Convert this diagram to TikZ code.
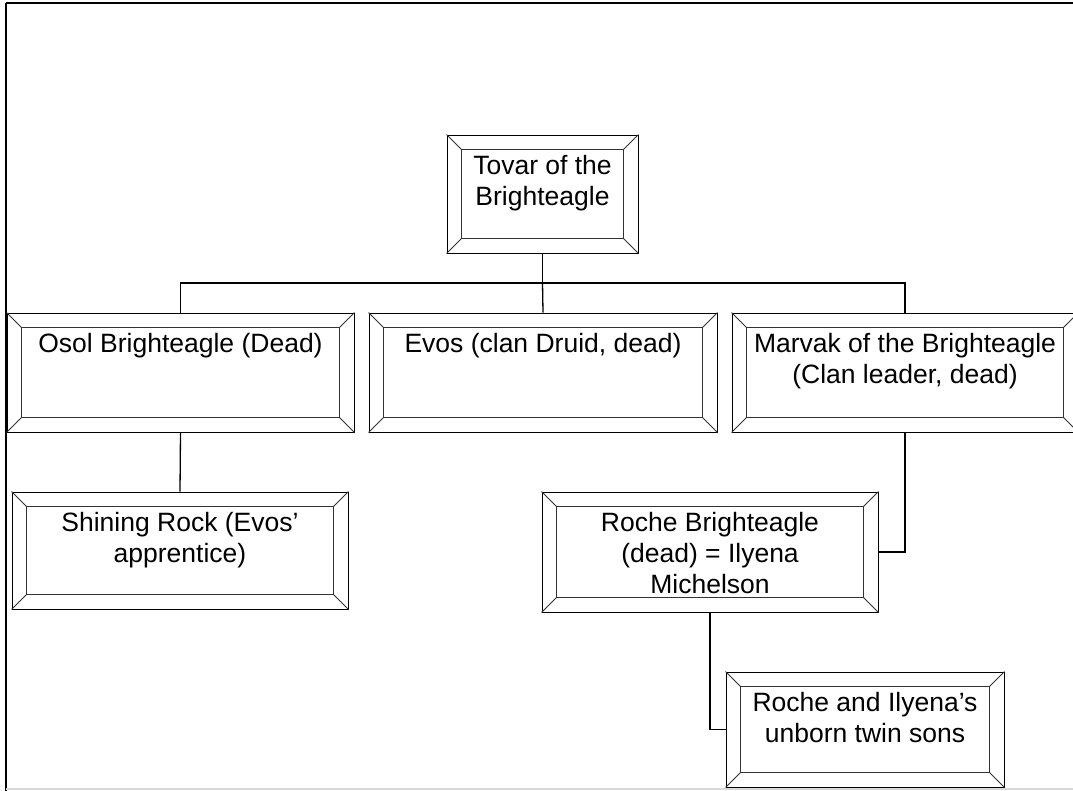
\documentclass[tikz,border=0pt]{standalone}
\usepackage{fontspec}
\setmainfont{Liberation Sans}
\tikzset{
  outerbox/.style={draw=black, line width=0.9pt, inner sep=0pt, rectangle},
  bevline/.style={draw=black!80, line width=0.9pt},
  boxtext/.style={inner sep=0pt, align=center, font=\fontsize{26.5}{31}\selectfont, anchor=north},
  link/.style={draw=black, line width=1.3pt},
  framel/.style={draw=black, line width=2pt}
}
\newcommand\bevbox[6]{%
  \pgfmathsetmacro\bw{#4-#2}\pgfmathsetmacro\bh{#5-#3}%
  \node[outerbox, minimum width=\bw pt, minimum height=\bh pt] (#1) at ({(#2+#4)/2},{(#3+#5)/2}) {};
  \draw[bevline] ([shift={(15,15)}]#1.north west) rectangle ([shift={(-15,-15)}]#1.south east);
  \draw[bevline] (#1.north west) -- ++(15,15);
  \draw[bevline] (#1.north east) -- ++(-15,15);
  \draw[bevline] (#1.south west) -- ++(15,-15);
  \draw[bevline] (#1.south east) -- ++(-15,-15);
  \node[boxtext] (#1-t) at ([yshift=-15pt]#1.north) {\rule{0pt}{25pt}#6};
}
\begin{document}
\begin{tikzpicture}[x=1pt,y=-1pt]
\useasboundingbox (0,0) rectangle (1073,790);
\fill[white] (0,0) rectangle (1073,790);
\clip (0,0) rectangle (1073,790);
% frame
\draw[framel] (6,3) -- (1075,3);
\draw[framel] (6,3) -- (6,792);
\draw[black!15, line width=1.5pt] (6,789) -- (1075,789);
% boxes
\bevbox{tovar}{447}{135}{638}{253}{Tovar of the\\Brighteagle}
\bevbox{osol}{7}{313}{354}{432}{Osol Brighteagle (Dead)}
\bevbox{evos}{369}{313}{717}{432}{Evos (clan Druid, dead)}
\bevbox{marvak}{732}{313}{1078}{432}{Marvak of the Brighteagle\\(Clan leader, dead)}
\bevbox{shining}{12}{492}{348}{609}{Shining Rock (Evos’\\apprentice)}
\bevbox{roche}{542}{492}{878}{612}{Roche Brighteagle\\(dead) = Ilyena\\Michelson}
\bevbox{twins}{726}{672}{1004}{787}{Roche and Ilyena’s\\unborn twin sons}
% connectors
\coordinate (bus) at (542.5,283);
\draw[link] (tovar.south) -- (bus);
\draw[link] (osol.north) |- (bus) -| (marvak.north);
\draw[link] (bus) -- (evos.north);
\draw[link] (osol.south) -- (shining.north);
\draw[link] (marvak.south) |- (roche.east);
\draw[link] (roche.south) |- (twins.west);
\end{tikzpicture}
\end{document}
